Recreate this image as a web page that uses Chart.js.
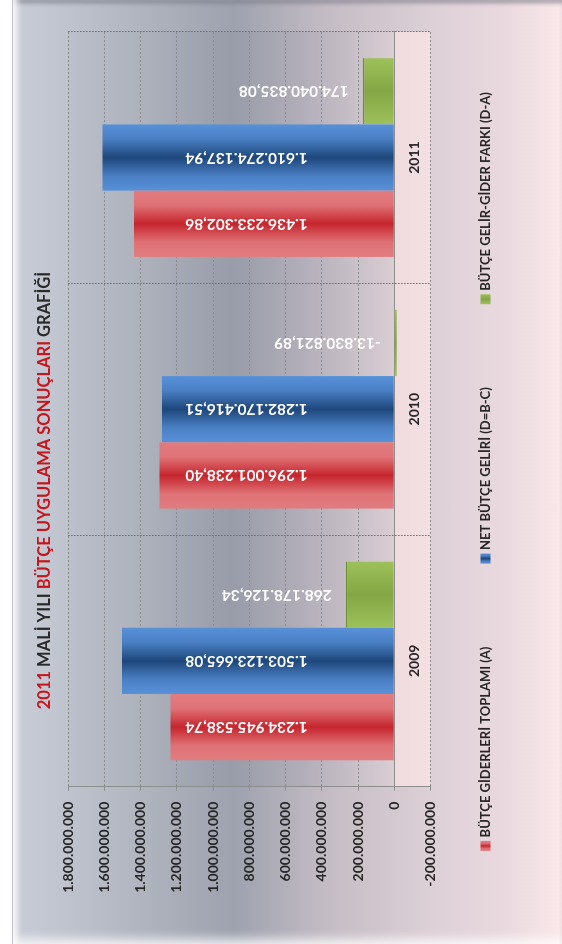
<!DOCTYPE html>
<html><head><meta charset="utf-8">
<script src="https://cdn.jsdelivr.net/npm/chart.js@4.4.0/dist/chart.umd.min.js"></script>
<style>
html,body{margin:0;padding:0;background:#fff;width:562px;height:944px;overflow:hidden;}
#frame{position:absolute;left:12px;top:0;width:550px;height:944px;box-sizing:border-box;
 background:linear-gradient(to right,#c9cdd7 0px,#bfc3cd 56px,#9da2ae 221px,#c3bbc4 311px,#ddd0d7 418px,#e9d9df 490px,#fbe8ea 550px);
 border-left:1px solid #c4c4c8;
 box-shadow: inset 7px 0 6px -3px rgba(255,255,255,0.95), inset 0 5px 4px -2px rgba(100,100,115,0.6), inset 0 -12px 10px -6px rgba(255,255,255,0.7);}
#rot{position:absolute;left:0;top:0;width:944px;height:562px;transform-origin:0 0;transform:translate(0px,944px) rotate(-90deg);}
</style></head>
<body>
<div id="frame"></div>
<div id="rot"><canvas id="c" width="944" height="562"></canvas></div>
<script>
// ---------- data ----------
const categories = ['2009', '2010', '2011'];
const seriesNames = ['BÜTÇE GİDERLERİ TOPLAMI (A)', 'NET BÜTÇE GELİRİ (D=B-C)', 'BÜTÇE GELİR-GİDER FARKI (D-A)'];
const giderler = [1234945538.74, 1296001238.40, 1436233302.86];
const netGelir = [1503123665.08, 1282170416.51, 1610274137.94];
const fark = [268178126.34, -13830821.89, 174040835.08];
const valueTicks = [-200000000, 0, 200000000, 400000000, 600000000, 800000000, 1000000000, 1200000000, 1400000000, 1600000000, 1800000000];
const titleParts = ['2011 ', 'MALİ YILI ', 'BÜTÇE UYGULAMA SONUÇLARI ', 'GRAFİĞİ'];

// ---------- styles ----------
const FONT = 'Lato, "Open Sans", sans-serif';
const TEXT_DARK = '#262626';
const titleColors = ['#c4161c', '#2a2a2a', '#c4161c', '#2a2a2a'];
const CAT_PCT = 0.79;
const seriesStyles = [
  {stops: [[0, '#e17c80'], [0.22, '#df7276'], [0.5, '#c6252d'], [0.78, '#df7276'], [1, '#e17c80']], solid: '#d4474d', border: null},
  {stops: [[0, '#5891d9'], [0.22, '#4a7fc4'], [0.5, '#1e477b'], [0.78, '#4a7fc4'], [1, '#5891d9']], solid: '#3567a8', border: null},
  {stops: [[0, '#9dc15a'], [0.5, '#84a645'], [1, '#9dc15a']], solid: '#8fb24f', border: '#6c8f37'}
];

function groupDigits(s) { return s.replace(/\B(?=(\d{3})+(?!\d))/g, '.'); }
function fmtInt(n) { return (n < 0 ? '-' : '') + groupDigits(Math.abs(Math.round(n)).toString()); }
function fmtDec(n) {
  const p = Math.abs(n).toFixed(2).split('.');
  return (n < 0 ? '-' : '') + groupDigits(p[0]) + ',' + p[1];
}

function makeGrad(ctx, x0, x1, stops) {
  const g = ctx.createLinearGradient(x0, 0, x1, 0);
  stops.forEach(s => g.addColorStop(s[0], s[1]));
  return g;
}

function barFill(si) {
  const st = seriesStyles[si];
  return (c) => {
    if (c.type !== 'data') return st.solid;
    const chart = c.chart, xs = chart.scales.x;
    if (!xs || !chart.chartArea) return st.solid;
    const n = chart.data.datasets.length;
    const catW = xs.width / categories.length;
    const thick = catW * CAT_PCT / n;
    const center = xs.getPixelForValue(c.dataIndex);
    const left = center - catW * CAT_PCT / 2 + c.datasetIndex * thick;
    return makeGrad(chart.ctx, left, left + thick, st.stops);
  };
}

const plotBgPlugin = {
  id: 'plotBg',
  beforeDraw(chart) {
    const {ctx, chartArea: a} = chart;
    const y0 = chart.scales.y.getPixelForValue(0);
    ctx.save();
    const g = ctx.createLinearGradient(0, a.top, 0, y0);
    g.addColorStop(0, '#bcc0ca'); g.addColorStop(0.25, '#abb0bb'); g.addColorStop(0.5, '#979ca8');
    g.addColorStop(0.72, '#b2aeb9'); g.addColorStop(1, '#dacdd3');
    ctx.fillStyle = g; ctx.fillRect(a.left, a.top, a.right - a.left, y0 - a.top);
    const g2 = ctx.createLinearGradient(0, y0, 0, a.bottom);
    g2.addColorStop(0, '#f0dbde'); g2.addColorStop(1, '#f4e0e2');
    ctx.fillStyle = g2; ctx.fillRect(a.left, y0, a.right - a.left, a.bottom - y0);
    ctx.restore();
  }
};

const valueLabelPlugin = {
  id: 'valueLabels',
  afterDatasetsDraw(chart) {
    const ctx = chart.ctx;
    const INSET = 86, GAP = 14;
    ctx.save();
    ctx.font = 'bold 15.5px ' + FONT;
    ctx.fillStyle = '#ffffff';
    ctx.textAlign = 'left';
    ctx.textBaseline = 'middle';
    chart.data.datasets.forEach((ds, di) => {
      chart.getDatasetMeta(di).data.forEach((el, i) => {
        const txt = fmtDec(ds.data[i]);
        const w = ctx.measureText(txt).width;
        const len = Math.abs(el.base - el.y);
        const start = (len > INSET + w) ? el.base - INSET : Math.min(el.y, el.base) - GAP;
        ctx.save();
        ctx.translate(el.x, start);
        ctx.rotate(-Math.PI / 2);
        ctx.fillText(txt, 0, 0);
        ctx.restore();
      });
    });
    ctx.restore();
  }
};

const titlePlugin = {
  id: 'mixedTitle',
  afterDraw(chart) {
    const ctx = chart.ctx;
    const CX = 453.5, CY = 44.5;
    ctx.save();
    ctx.font = 'bold 16.5px ' + FONT;
    ctx.textAlign = 'left'; ctx.textBaseline = 'middle';
    const ws = titleParts.map(t => ctx.measureText(t).width);
    let x = CX - ws.reduce((a, b) => a + b, 0) / 2;
    titleParts.forEach((t, i) => { ctx.fillStyle = titleColors[i]; ctx.fillText(t, x, CY); x += ws[i]; });
    ctx.restore();
  }
};

const legendPlugin = {
  id: 'customLegend',
  afterDraw(chart) {
    const ctx = chart.ctx;
    const CX = 472.5, CY = 486, BOX = 10, BOXGAP = 3.5, ITEMGAP = 83;
    ctx.save();
    ctx.font = 'bold 13px ' + FONT;
    ctx.textAlign = 'left'; ctx.textBaseline = 'middle';
    const ws = seriesNames.map(t => BOX + BOXGAP + ctx.measureText(t).width);
    const total = ws.reduce((a, b) => a + b, 0) + ITEMGAP * (ws.length - 1);
    let x = CX - total / 2;
    seriesNames.forEach((t, i) => {
      ctx.fillStyle = makeGrad(ctx, x, x + BOX, seriesStyles[i].stops);
      ctx.fillRect(x, CY - BOX / 2 - 0.5, BOX, BOX);
      ctx.fillStyle = TEXT_DARK;
      ctx.fillText(t, x + BOX + BOXGAP, CY);
      x += ws[i] + ITEMGAP;
    });
    ctx.restore();
  }
};

const datasets = [giderler, netGelir, fark].map((d, i) => ({
  label: seriesNames[i],
  data: d,
  backgroundColor: barFill(i),
  borderColor: seriesStyles[i].border || 'rgba(0,0,0,0)',
  borderWidth: seriesStyles[i].border ? {top: 1.5, left: 0, right: 0, bottom: 0} : 0,
  borderSkipped: 'start',
  categoryPercentage: CAT_PCT,
  barPercentage: 1.0
}));

new Chart(document.getElementById('c'), {
  type: 'bar',
  data: {labels: categories, datasets},
  plugins: [plotBgPlugin, valueLabelPlugin, titlePlugin, legendPlugin],
  options: {
    responsive: false,
    devicePixelRatio: 1,
    animation: false,
    events: [],
    layout: {padding: {left: 0, right: 31.7, top: 68.1, bottom: 131.5}},
    plugins: {legend: {display: false}, title: {display: false}, tooltip: {enabled: false}},
    scales: {
      x: {
        type: 'category',
        position: {y: 0},
        offset: true,
        grid: {offset: true, color: '#d43a3a', lineWidth: 1, drawTicks: false},
        border: {display: true, color: '#8e8e8e', width: 1, dash: [1.5, 1.5]},
        ticks: {color: TEXT_DARK, font: {family: FONT, size: 14, weight: 'bold'}, padding: 12},
        afterFit(s) { s.height = 0; }
      },
      y: {
        min: valueTicks[0],
        max: valueTicks[valueTicks.length - 1],
        afterBuildTicks(s) { s.ticks = valueTicks.map(v => ({value: v})); },
        grid: {color: '#8a8a8a', lineWidth: 1, tickLength: 4, tickBorderDash: [], tickColor: '#8e8e8e'},
        border: {display: true, color: '#8e8e8e', width: 1, dash: [2, 2]},
        ticks: {color: TEXT_DARK, font: {family: FONT, size: 14, weight: 'bold'}, padding: 11,
          callback: (v) => fmtInt(v)},
        afterFit(s) { s.width = 157.3; }
      }
    }
  }
});
</script>
</body></html>
